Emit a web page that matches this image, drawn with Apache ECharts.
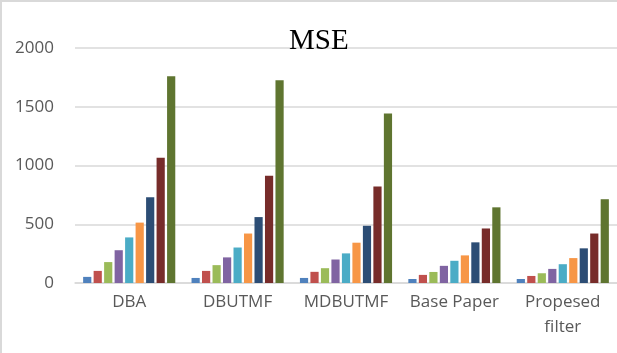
<!DOCTYPE html>
<html>
<head>
<meta charset="utf-8">
<script src="https://cdn.jsdelivr.net/npm/echarts@6/dist/echarts.min.js"></script>
<style>
  html, body { margin: 0; padding: 0; background: #fff; }
  #chart { width: 617px; height: 353px; box-sizing: border-box; border-top: 2px solid #d9d9d9; border-left: 2px solid #d9d9d9; }
</style>
</head>
<body>
<div id="chart"></div>
<script>
const categories = ['DBA', 'DBUTMF', 'MDBUTMF', 'Base Paper', 'Propesed\nfilter']
const s1 = [52, 43, 43, 34, 34]
const s2 = [103, 103, 95, 69, 60]
const s3 = [178, 152, 126, 94, 83]
const s4 = [279, 218, 200, 146, 120]
const s5 = [388, 302, 252, 189, 160]
const s6 = [514, 421, 343, 235, 212]
const s7 = [730, 561, 487, 346, 295]
const s8 = [1066, 913, 822, 464, 421]
const s9 = [1760, 1725, 1442, 644, 713]
const seriesData = [s1, s2, s3, s4, s5, s6, s7, s8, s9]
const palette = ['#4F81BD', '#C0504D', '#9BBB59', '#8064A2', '#4BACC6', '#F79646', '#2C4D75', '#772C2A', '#5F7530']

const chart = echarts.init(document.getElementById('chart'))
const series = seriesData.map((data, i) => ({
  type: 'bar', data,
  barGap: '28%', barCategoryGap: '15%',
  itemStyle: { color: palette[i] },
}))

chart.setOption({
  animation: false,
  title: {
    text: 'MSE', left: 282, top: 20,
    textStyle: { fontFamily: 'Liberation Serif', fontWeight: 'normal', fontSize: 29, color: '#000' },
  },
  grid: { left: 73, right: -3, top: 46, bottom: 70 },
  xAxis: {
    type: 'category', data: categories,
    axisLine: { lineStyle: { color: '#d9d9d9', width: 1.5 } },
    axisTick: { show: false },
    axisLabel: {
      interval: 0, hideOverlap: false,
      color: '#595959', fontFamily: 'Open Sans', fontSize: 17, margin: 7, lineHeight: 25,
    },
  },
  yAxis: {
    type: 'value', min: 0, max: 2000, interval: 500,
    splitLine: { lineStyle: { color: '#d9d9d9', width: 1.5 } },
    axisLabel: { color: '#595959', fontFamily: 'Open Sans', fontSize: 17, margin: 21, formatter: (v) => String(v) },
  },
  series,
})
</script>
</body>
</html>
